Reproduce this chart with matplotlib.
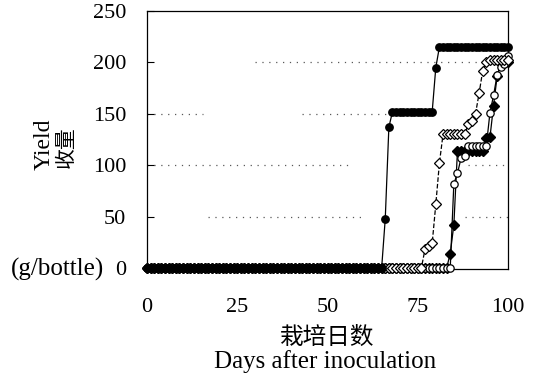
import numpy as np
import matplotlib
matplotlib.use("Agg")
import matplotlib.pyplot as plt

# days after inoculation, one reading per day
days = np.arange(0, 101)

# filled circles, solid line
yield_a = [0]*66 + [48, 137] + [152]*12 + [195] + [215]*20
# filled diamonds, solid line
yield_b = [0]*84 + [14, 42] + [114]*8 + [126, 127, 158, 187, 199, 200, 200]
# open circles, solid line
yield_c = [0]*85 + [82, 92, 107, 109] + [119]*6 + [151, 168, 188, 196, 198, 206]
# open diamonds, dashed line
yield_d = [0]*77 + [18, 21, 24, 62, 102] + [130]*7 + [140, 143, 150, 170, 192, 200] + [202]*6

xticks = [0, 25, 50, 75, 100]
yticks = [0, 50, 100, 150, 200, 250]

serif = "Liberation Serif"
cjk = "Noto Sans CJK SC"

fig = plt.figure(figsize=(5.36, 3.81), dpi=100)
ax = fig.add_axes([147/536, 1-269/381, 361/536, 258/381])

# broken dotted guide lines, as in the scanned original
guides = [(200, 0.30, 1.0), (150, 0.0, 0.155), (150, 0.43, 0.79),
          (100, 0.0, 0.57), (100, 0.89, 1.0), (50, 0.17, 0.60), (50, 0.88, 1.0)]
for yv, x0, x1 in guides:
    ax.axhline(yv, x0, x1, color="0.35", lw=0.9, ls=(0, (1, 4.5)), zorder=0)

ax.plot(days, yield_b, "-", color="k", lw=0.9, marker="D", ms=4.8,
        mfc="k", mec="k", zorder=2, clip_on=False)
ax.plot(days, yield_c, "-", color="k", lw=0.9, marker="o", ms=5.3,
        mfc="white", mec="k", mew=0.9, zorder=3, clip_on=False)
ax.plot(days, yield_d, "--", color="k", lw=0.9, marker="D", ms=4.8,
        mfc="white", mec="k", mew=0.9, zorder=3, clip_on=False)
ax.plot(days, yield_a, "-", color="k", lw=0.9, marker="o", ms=5.3,
        mfc="k", mec="k", zorder=4, clip_on=False)

ax.set_xlim(0, 100)
ax.set_ylim(-1, 250)
ax.set_xticks(xticks)
ax.set_yticks(yticks)
ax.set_xticklabels([str(v) for v in xticks], fontfamily=serif, fontsize=16)
ax.set_yticklabels([str(v) for v in yticks], fontfamily=serif, fontsize=16)
ax.tick_params(axis="x", length=0, pad=21)
ax.tick_params(axis="y", direction="in", length=5, width=0.8, pad=15)
for s in ax.spines.values():
    s.set_linewidth(0.9)

fig.text(44/536, 1-144/381, "Yield", rotation=90, ha="center", va="center",
         fontfamily=serif, fontsize=17)
fig.text(66/536, 1-147/381, "收量", rotation=90, ha="center", va="center",
         fontfamily=cjk, fontsize=15)
fig.text(57/536, 1-269/381, "(g/bottle)", ha="center", va="center",
         fontfamily=serif, fontsize=18)
fig.text(327/536, 1-337/381, "栽培日数", ha="center", va="center",
         fontfamily=cjk, fontsize=17, fontweight="medium")
fig.text(325/536, 1-362/381, "Days after inoculation", ha="center", va="center",
         fontfamily=serif, fontsize=18)

fig.savefig("out.png", dpi=100)
